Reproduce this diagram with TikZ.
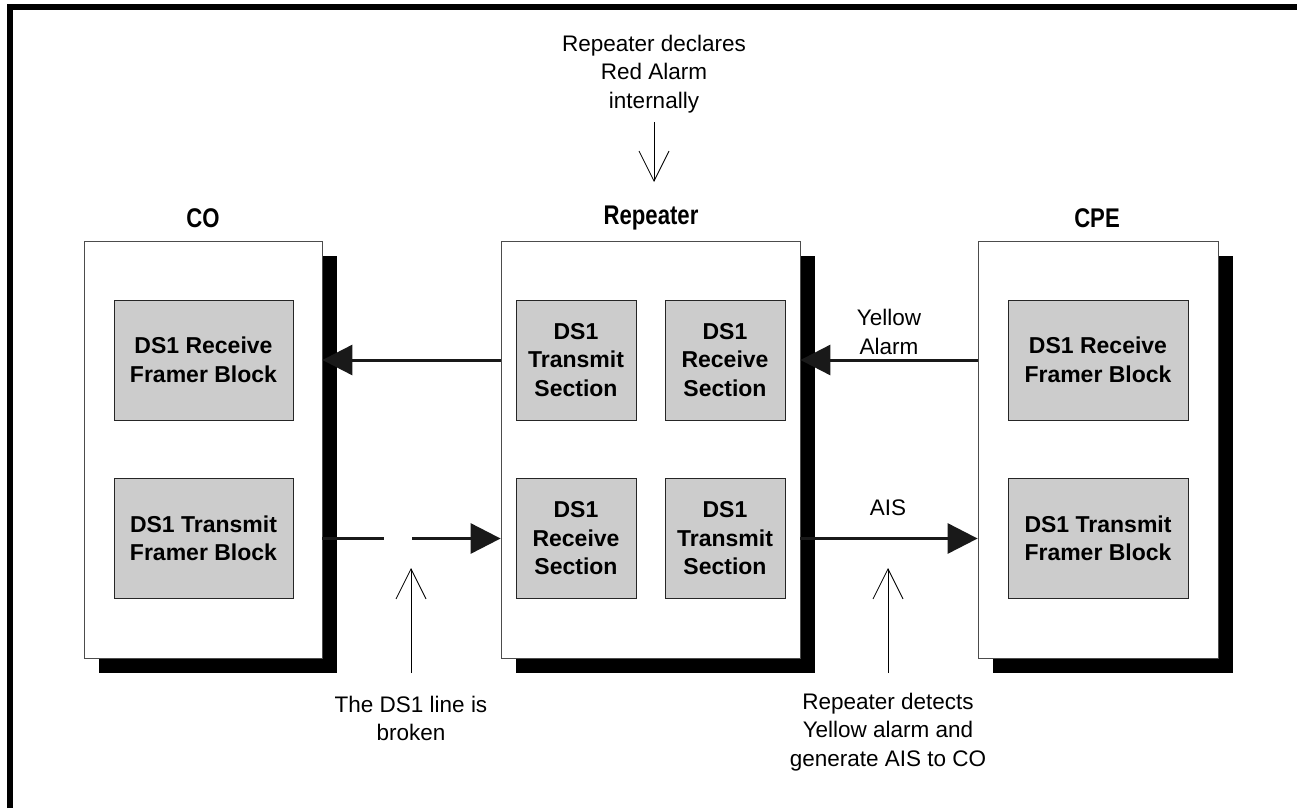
\documentclass[tikz,border=0pt]{standalone}
\usepackage{fontspec}
\setmainfont{Liberation Sans}
\newfontfamily\titlefont[FakeStretch=0.82]{Liberation Sans}
\usetikzlibrary{arrows.meta,shadows}

\begin{document}
\begin{tikzpicture}[
  x=1pt, y=-1pt,
  unit/.style={draw=black!70, fill=white, line width=0.8pt, minimum height=417pt, inner sep=0pt,
               drop shadow={shadow xshift=15pt, shadow yshift=-15pt, fill=black, opacity=1}},
  block/.style={draw=black!85, fill=black!20, line width=0.8pt, minimum width=120pt,
                minimum height=120pt, align=center, inner sep=2pt,
                font=\fontsize{23}{28.5}\selectfont\bfseries},
  title/.style={font=\fontsize{27}{30}\selectfont\titlefont\bfseries, inner sep=0pt},
  note/.style={align=center, font=\fontsize{22.5}{28.5}\selectfont, inner sep=0pt},
  sig/.style={line width=3pt, black!90, -{Triangle[length=30pt,width=30pt]}},
  hint/.style={line width=0.8pt, -{Straight Barb[length=30pt,width=30pt]}}
]
\useasboundingbox (0,0) rectangle (1297,808);
\draw[line width=6pt] (10,808) -- (10,7) -- (1297,7);

\node[unit, minimum width=238pt] (co)  at (203,449.5)  {};
\node[unit, minimum width=299pt] (rep) at (650.5,449.5) {};
\node[unit, minimum width=240pt] (cpe) at (1098,449.5) {};

\node[title] (colbl)  at (203,218)  {CO};
\node[title] (replbl) at (651,218)  {Repeater};
\node[title] (cpelbl) at (1097,218) {CPE};

\node[block, minimum width=179pt] (corx)  at (203.5,360)   {DS1 Receive\\Framer Block};
\node[block, minimum width=179pt] (cotx)  at (203.5,538.5) {DS1 Transmit\\Framer Block};
\node[block] (reptx)  at (576,360)   {DS1\\Transmit\\Section};
\node[block] (reprx)  at (725,360)   {DS1\\Receive\\Section};
\node[block] (reprx2) at (576,538.5) {DS1\\Receive\\Section};
\node[block] (reptx2) at (725,538.5) {DS1\\Transmit\\Section};
\node[block, minimum width=180pt] (cperx) at (1098,360)   {DS1 Receive\\Framer Block};
\node[block, minimum width=180pt] (cpetx) at (1098,538.5) {DS1 Transmit\\Framer Block};

\draw[sig] (rep.west |- reptx) -- (co.east |- corx);
\draw[sig] (cpe.west |- cperx) -- (rep.east |- reprx);
\draw[sig, dash pattern=on 62pt off 28pt on 400pt] (co.east |- cotx) -- (rep.west |- reprx2);
\draw[sig] (rep.east |- reptx2) -- (cpe.west |- cpetx);

\node[note] (yellbl) at (889,332) {Yellow\\Alarm};
\node[note] (aislbl) at (888,508) {AIS};

\node[note] (redtxt) at (654,74) {Repeater declares\\Red Alarm\\internally};
\coordinate (redfoot) at (654,122);
\coordinate (redtip)  at (654,182);
\draw[hint] (redfoot) -- (redtip);

\node[note] (brktxt) at (411,718.5) {The DS1 line is\\broken};
\coordinate (brkfoot) at (411,673);
\coordinate (brktip)  at (411,568);
\draw[hint] (brkfoot) -- (brktip);

\node[note] (aistxt) at (888,732) {Repeater detects\\Yellow alarm and\\generate AIS to CO};
\coordinate (aisfoot) at (888,673);
\coordinate (aistip)  at (888,568);
\draw[hint] (aisfoot) -- (aistip);
\end{tikzpicture}
\end{document}
